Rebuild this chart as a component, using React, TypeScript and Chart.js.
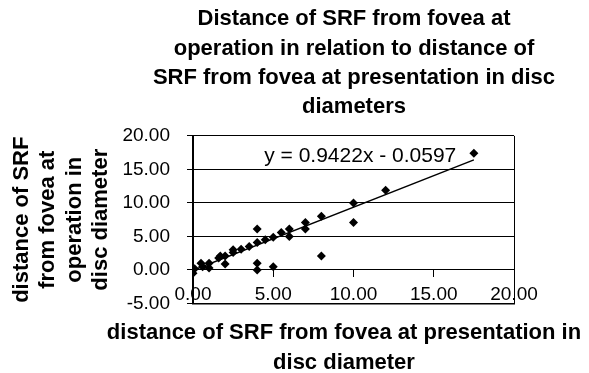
import React, { useEffect, useRef } from 'react';
import { Chart, registerables } from 'chart.js';

Chart.register(...registerables);

const PRESENTATION = [0, 0.1, 0.5, 0.6, 1, 1, 1.6, 1.7, 2, 2, 2.5, 2.5, 3, 3.5, 4, 4, 4, 4, 4.5, 5, 5, 5.5, 6, 6, 7, 7, 8, 8, 10, 10, 12, 17.5];
const OPERATION = [-0.5, 0.2, 1.0, 0.5, 1.0, 0.3, 1.8, 2.1, 2.1, 0.9, 3.0, 2.6, 3.1, 3.5, 4.1, 6.1, 1.0, 0, 4.5, 4.9, 0.5, 5.6, 6.1, 5.0, 7.1, 6.1, 8.0, 2.1, 10.0, 7.1, 11.9, 17.4];
const SLOPE = 0.9422;
const INTERCEPT = -0.0597;
const TREND_X = [0, 17.5];
const EQUATION = 'y = 0.9422x - 0.0597';
const EQ_POS = { x: 10.42, y: 17.0 };

const X_MIN = 0, X_MAX = 20, X_STEP = 5;
const Y_MIN = -5, Y_MAX = 20, Y_STEP = 5;

const TITLE = [
  'Distance of SRF from fovea at',
  'operation in relation to distance of',
  'SRF from fovea at presentation in disc',
  'diameters',
];
const X_TITLE = ['distance of SRF from fovea at presentation in', 'disc diameter'];
const Y_TITLE = ['distance of SRF', 'from fovea at', 'operation in', 'disc diameter'];

const FONT = 'Liberation Sans, Arial, Helvetica, sans-serif';

const textPlugin = {
  id: 'textLabels',
  afterDraw(chart: any) {
    const { ctx, scales, chartArea } = chart;
    ctx.save();
    ctx.fillStyle = '#000';
    ctx.textAlign = 'center';
    ctx.textBaseline = 'middle';
    // equation label
    ctx.font = `21px ${FONT}`;
    ctx.fillText(EQUATION, scales.x.getPixelForValue(EQ_POS.x), scales.y.getPixelForValue(EQ_POS.y));
    // chart title
    const cx = (chartArea.left + chartArea.right) / 2;
    ctx.font = `bold 22px ${FONT}`;
    TITLE.forEach((line, i) => ctx.fillText(line, cx + 0.5, 19.2 + i * 29.4));
    // x axis title
    X_TITLE.forEach((line, i) => ctx.fillText(line, cx - 9.5, chartArea.bottom + 29 + i * 30));
    ctx.restore();
  },
};

export default function App() {
  const ref = useRef<HTMLCanvasElement>(null);

  useEffect(() => {
    if (!ref.current) return;
    const points = PRESENTATION.map((x, i) => ({ x, y: OPERATION[i] }));
    const trend = TREND_X.map((x) => ({ x, y: SLOPE * x + INTERCEPT }));
    const chart = new Chart(ref.current, {
      type: 'scatter',
      data: {
        datasets: [
          {
            type: 'scatter',
            data: points,
            pointStyle: 'rectRot',
            radius: 4.5,
            backgroundColor: '#000',
            borderColor: '#000',
            borderWidth: 0,
            xAxisID: 'x',
            yAxisID: 'y',
          } as any,
          {
            type: 'line',
            data: trend,
            borderColor: '#000',
            borderWidth: 1.5,
            pointRadius: 0,
            fill: false,
            xAxisID: 'x',
            yAxisID: 'y',
          } as any,
        ],
      },
      options: {
        animation: false,
        responsive: false,
        maintainAspectRatio: false,
        layout: { padding: { left: 0, right: 75, top: 0, bottom: 0 } },
        plugins: {
          legend: { display: false },
          tooltip: { enabled: false },
          title: {
            display: true,
            text: TITLE,
            fullSize: false,
            color: 'rgba(0,0,0,0)',
            font: { family: FONT, size: 22, weight: 'bold', lineHeight: 1.34 },
            padding: { top: 4, bottom: 14 },
          } as any,
        },
        scales: {
          x: {
            type: 'linear',
            position: 'bottom',
            min: X_MIN,
            max: X_MAX,
            ticks: { stepSize: X_STEP, display: false },
            grid: {
              drawTicks: false,
              color: (c: any) => (c.tick && c.tick.value === X_MAX ? '#000' : 'rgba(0,0,0,0)'),
              lineWidth: 1,
            },
            border: { display: true, color: '#000', width: 1.5 },
            title: { display: false },
            afterFit: (s: any) => { s.height = 69.5; },
          } as any,
          x2: {
            type: 'linear',
            axis: 'x',
            position: { y: 0 },
            min: X_MIN,
            max: X_MAX,
            ticks: {
              stepSize: X_STEP,
              color: '#000',
              font: { family: FONT, size: 19 },
              padding: 6,
              callback: (v: any) => Number(v).toFixed(2),
            },
            grid: { drawOnChartArea: false, drawTicks: true, tickLength: 7, tickColor: '#000', tickWidth: 1 },
            border: { display: false },
          } as any,
          y: {
            type: 'linear',
            position: 'left',
            min: Y_MIN,
            max: Y_MAX,
            ticks: {
              stepSize: Y_STEP,
              color: '#000',
              font: { family: FONT, size: 19 },
              padding: 17,
              callback: (v: any) => Number(v).toFixed(2),
            },
            grid: { color: '#000', lineWidth: 1, tickLength: 6, drawTicks: true },
            border: { display: true, color: '#000', width: 2 },
            title: {
              display: true,
              text: Y_TITLE,
              color: '#000',
              font: { family: FONT, size: 22, weight: 'bold', lineHeight: 1.2 },
              padding: { top: 8.5, bottom: 4 },
            },
            afterFit: (s: any) => { s.width = 193; },
          } as any,
        },
      },
      plugins: [textPlugin],
    });
    return () => chart.destroy();
  }, []);

  return (
    <div style={{ position: 'fixed', left: 0, top: 0, width: 589, height: 373, background: '#fff' }}>
      <canvas ref={ref} width={589} height={373} style={{ display: 'block', width: 589, height: 373 }} />
    </div>
  );
}
